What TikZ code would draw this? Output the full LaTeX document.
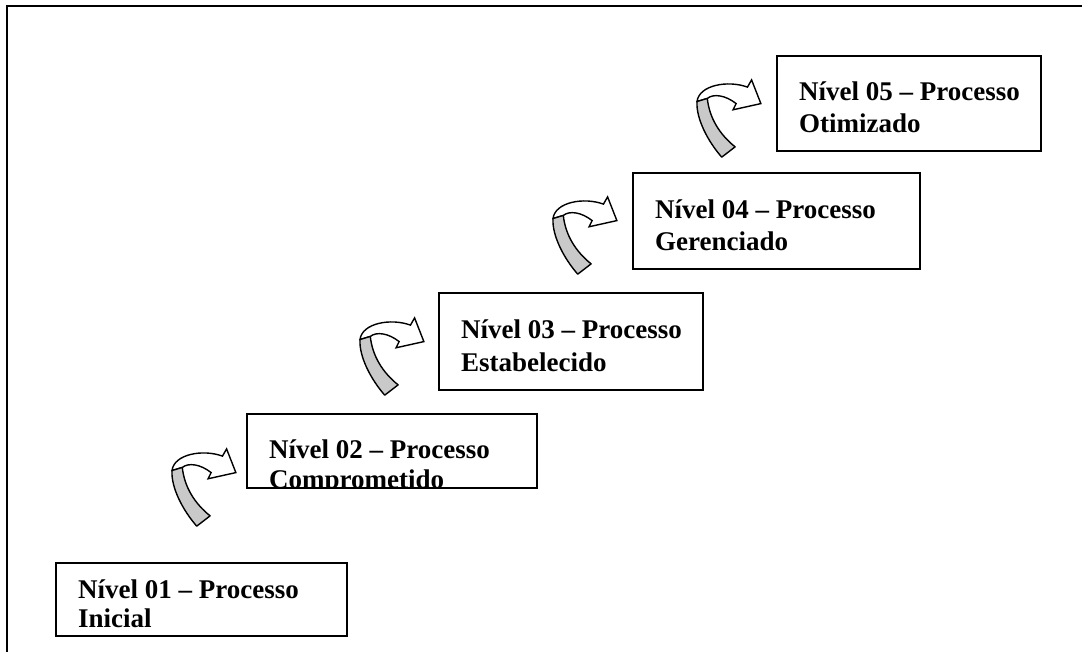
\documentclass[tikz,border=0pt]{standalone}
\usepackage{fontspec}
\setmainfont{Liberation Serif}
\usetikzlibrary{calc}
\tikzset{
  frameline/.style={line width=2pt, line cap=rect},
  levelbox/.style={draw, line width=1.6pt, anchor=north west, inner sep=0pt, fill=none},
  leveltext/.style={anchor=base west, inner sep=0pt, font=\fontsize{27}{32}\selectfont\bfseries},
  bandgrey/.style={draw, line width=1.4pt, fill=gray!42, line join=round},
  bandwhite/.style={draw, line width=1.4pt, fill=white, line join=miter},
  curvarrow/.pic={
    \path[bandwhite] (0,18) .. controls (2,2) and (30,-3) .. (49,4) -- (53,-3) -- (62,20) -- (35,26) -- (38,20) .. controls (28,12) and (16,10) .. (10,15) -- cycle;
    \path[bandgrey] (0,18) .. controls (-1,34) and (10,56) .. (24,72) -- (37,62) .. controls (22,50) and (12,34) .. (10,15) -- cycle;
  }
}
\begin{document}
\begin{tikzpicture}[x=1pt,y=-1pt]
\useasboundingbox (0,0) rectangle (1082,652);
% outer frame (top and left visible)
\coordinate (fbl) at (7,660);
\coordinate (ftl) at (7,6);
\coordinate (ftr) at (1090,6);
\draw[frameline] (fbl) -- (ftl) -- (ftr);

% boxes
\node[levelbox, minimum width=291pt, minimum height=73pt] (b1) at (55,562) {};
\node[levelbox, minimum width=290pt, minimum height=74pt] (b2) at (246,413) {};
\node[levelbox, minimum width=264pt, minimum height=97pt] (b3) at (438,292) {};
\node[levelbox, minimum width=287pt, minimum height=96pt] (b4) at (632,172) {};
\node[levelbox, minimum width=264pt, minimum height=95pt] (b5) at (776,55) {};

% texts
\node[leveltext] (t1a) at ($(b1.north west)+(23,36)$) {Nível 01 – Processo};
\node[leveltext] (t1b) at ($(b1.north west)+(23,65)$) {Inicial};
\begin{scope}
  \clip (b2.north west) rectangle (b2.south east);
  \node[leveltext] (t2a) at ($(b2.north west)+(23,45)$) {Nível 02 – Processo};
  \node[leveltext] (t2b) at ($(b2.north west)+(23,75)$) {Comprometido};
\end{scope}
\node[leveltext] (t3a) at ($(b3.north west)+(23,47)$) {Nível 03 – Processo};
\node[leveltext] (t3b) at ($(b3.north west)+(23,79)$) {Estabelecido};
\node[leveltext] (t4a) at ($(b4.north west)+(23,47)$) {Nível 04 – Processo};
\node[leveltext] (t4b) at ($(b4.north west)+(23,79)$) {Gerenciado};
\node[leveltext] (t5a) at ($(b5.north west)+(23,46)$) {Nível 05 – Processo};
\node[leveltext] (t5b) at ($(b5.north west)+(23,78)$) {Otimizado};

% curved arrows
\pic[scale=1.03] at (172,452) {curvarrow};
\pic[scale=1.03] at (360,321) {curvarrow};
\pic[scale=1.03] at (553,200) {curvarrow};
\pic[scale=1.03] at (697,83) {curvarrow};
\end{tikzpicture}
\end{document}
